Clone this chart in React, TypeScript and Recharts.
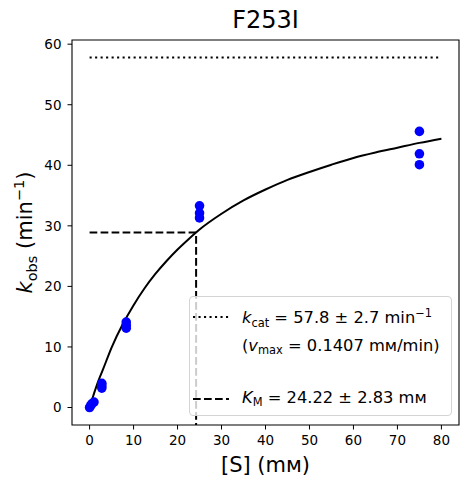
import React from 'react';
import { ComposedChart, Scatter, Line, XAxis, YAxis, ReferenceArea, Legend } from 'recharts';

// measured substrate concentrations (mM) and observed rates (1/min)
const substrate = [0, 0.25, 0.5, 1, 2.78, 2.78, 2.78, 8.33, 8.33, 8.33, 25, 25, 25, 75, 75, 75];
const kobs = [0.0, 0.3, 0.6, 0.9, 3.2, 3.6, 4.0, 13.1, 13.6, 14.1, 31.3, 32.1, 33.3, 40.1, 41.9, 45.6];

// fitted Michaelis-Menten curve
const fitS = [0.5, 1, 2, 3, 5, 7.5, 10, 12.5, 15, 17.5, 20, 22.5, 25, 30, 35, 40, 45, 50, 55, 60, 65, 70, 75, 80];
const fitK = [1.2, 2.3, 4.4, 6.2, 9.9, 13.7, 16.9, 19.7, 22.1, 24.2, 26.1, 27.8, 29.4, 32.0, 34.2, 36.0, 37.6, 38.9, 40.1, 41.2, 42.1, 42.9, 43.7, 44.4];

const kcat = 57.8;
const km = 24.22;
const kmHalf = 28.9;
const sMax = 80;

const xTicks = [0, 10, 20, 30, 40, 50, 60, 70, 80];
const yTicks = [0, 10, 20, 30, 40, 50, 60];
const xDomain: [number, number] = [-4, 84];
const yDomain: [number, number] = [-2.89, 60.69];

const points = substrate.map((s, i) => ({ s, k: kobs[i] }));
const fit = fitS.map((s, i) => ({ s, k: fitK[i] }));
const kcatLine = [{ s: 0, k: kcat }, { s: sMax, k: kcat }];
const kmLine = [{ s: 0, k: kmHalf }, { s: km, k: kmHalf }, { s: km, k: yDomain[0] }];

const font = '"DejaVu Sans", sans-serif';
const dotted = '2.1 3.4';
const dashed = '7.7 3.3';
const lw = 2;

const Dot = (props: any) => <circle cx={props.cx} cy={props.cy} r={4.8} fill="#0000ff" />;

const YLabel = (props: any) => {
  const vb = props.viewBox || { x: 0, y: 40, width: 72, height: 385 };
  const cx = 32;
  const cy = vb.y + vb.height / 2;
  return (
    <text
      x={cx}
      y={cy}
      transform={`rotate(-90, ${cx}, ${cy})`}
      textAnchor="middle"
      fontFamily={font}
      fontSize={21}
      fill="#000"
    >
      <tspan fontStyle="italic">k</tspan>
      <tspan fontSize={14.5} dy={4.5}>obs</tspan>
      <tspan dy={-4.5}>{' (min'}</tspan>
      <tspan fontSize={14.5} dy={-8}>−1</tspan>
      <tspan dy={8}>)</tspan>
    </text>
  );
};

const XLabel = (props: any) => {
  const vb = props.viewBox || { x: 72, y: 425, width: 387, height: 59 };
  return (
    <text x={vb.x + vb.width / 2} y={471.5} textAnchor="middle" fontFamily={font} fontSize={21} fill="#000">
      [S] (mм)
    </text>
  );
};

const sub = { fontSize: '70%', verticalAlign: '-0.3em' } as const;
const sup = { fontSize: '70%', verticalAlign: '0.55em' } as const;

const LegendBox = () => (
  <div
    style={{
      position: 'relative',
      boxSizing: 'border-box',
      width: 263,
      height: 120,
      border: '1px solid #d4d4d4',
      borderRadius: 4,
      background: 'rgba(255,255,255,0.8)',
      fontFamily: font,
      fontSize: 16.3,
      color: '#000',
      lineHeight: 1,
    }}
  >
    <svg width={40} height={10} style={{ position: 'absolute', left: 2, top: 15 }}>
      <line x1={1} y1={5} x2={37} y2={5} stroke="#000" strokeWidth={lw} strokeDasharray={dotted} />
    </svg>
    <div style={{ position: 'absolute', left: 52, top: 11, whiteSpace: 'nowrap' }}>
      <i>k</i><span style={sub}>cat</span> = {kcat.toFixed(1)} ± 2.7 min<span style={sup}>−1</span>
    </div>
    <div style={{ position: 'absolute', left: 52, top: 41, whiteSpace: 'nowrap' }}>
      (<i>v</i><span style={sub}>max</span> = 0.1407 mм/min)
    </div>
    <svg width={40} height={10} style={{ position: 'absolute', left: 2, top: 97 }}>
      <line x1={1} y1={5} x2={37} y2={5} stroke="#000" strokeWidth={lw} strokeDasharray={dashed} />
    </svg>
    <div style={{ position: 'absolute', left: 52, top: 93, whiteSpace: 'nowrap' }}>
      <i>K</i><span style={sub}>M</span> = {km.toFixed(2)} ± 2.83 mм
    </div>
  </div>
);

export default function App() {
  return (
    <div style={{ position: 'absolute', left: 0, top: 0, width: 469, height: 484, background: '#fff' }}>
      <div
        style={{
          position: 'absolute',
          left: 72,
          width: 387,
          top: 6,
          textAlign: 'center',
          fontFamily: font,
          fontSize: 24,
          color: '#000',
        }}
      >
        F253I
      </div>
      <ComposedChart
        width={469}
        height={484}
        margin={{ top: 40, right: 10, bottom: 0, left: 0 }}
        style={{ fontFamily: font }}
      >
        <XAxis
          type="number"
          dataKey="s"
          domain={xDomain}
          ticks={xTicks}
          allowDataOverflow
          height={59}
          tickSize={4.5}
          tickMargin={6}
          axisLine={false}
          tickLine={{ stroke: '#000', strokeWidth: 1 }}
          tick={{ fill: '#000', fontSize: 13.5, fontFamily: font }}
          label={(p: any) => <XLabel {...p} />}
        />
        <YAxis
          type="number"
          dataKey="k"
          domain={yDomain}
          ticks={yTicks}
          allowDataOverflow
          width={72}
          tickSize={4.5}
          tickMargin={6}
          axisLine={false}
          tickLine={{ stroke: '#000', strokeWidth: 1 }}
          tick={{ fill: '#000', fontSize: 13.5, fontFamily: font }}
          label={(p: any) => <YLabel {...p} />}
        />
        <Scatter data={points} dataKey="k" shape={Dot} isAnimationActive={false} />
        <Line
          data={fit}
          dataKey="k"
          type="monotone"
          stroke="#000"
          strokeWidth={lw}
          dot={false}
          activeDot={false}
          isAnimationActive={false}
        />
        <Line
          data={kcatLine}
          dataKey="k"
          type="linear"
          stroke="#000"
          strokeWidth={lw}
          strokeDasharray={dotted}
          dot={false}
          activeDot={false}
          isAnimationActive={false}
        />
        <Line
          data={kmLine}
          dataKey="k"
          type="linear"
          stroke="#000"
          strokeWidth={lw}
          strokeDasharray={dashed}
          dot={false}
          activeDot={false}
          isAnimationActive={false}
        />
        <ReferenceArea
          x1={xDomain[0]}
          x2={xDomain[1]}
          y1={yDomain[0]}
          y2={yDomain[1]}
          fill="none"
          stroke="#000"
          strokeWidth={1.1}
          ifOverflow="visible"
        />
        <Legend
          layout="vertical"
          align="center"
          verticalAlign="middle"
          content={() => <LegendBox />}
          wrapperStyle={{ position: 'absolute', left: 189, top: 296, width: 263, height: 120 }}
        />
      </ComposedChart>
    </div>
  );
}
